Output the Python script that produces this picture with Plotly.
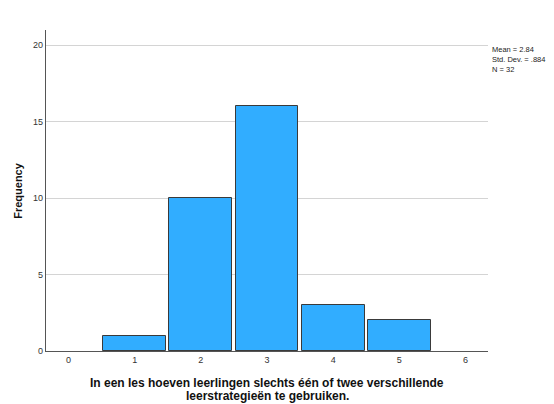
import plotly.graph_objects as go

categories = [1, 2, 3, 4, 5]
frequency = [1, 10, 16, 3, 2]
x_ticks = [0, 1, 2, 3, 4, 5, 6]
y_ticks = [0, 5, 10, 15, 20]
stats_lines = ["Mean = 2.84", "Std. Dev. = .884", "N = 32"]
x_title_lines = ["In een les hoeven leerlingen slechts één of twee verschillende",
                 "leerstrategieën te gebruiken."]
y_title = "Frequency"

fig = go.Figure()
fig.add_trace(go.Bar(
    x=categories, y=frequency, width=0.95,
    marker=dict(color="#31adff", line=dict(color="#3a3a3a", width=1)),
    showlegend=False, hoverinfo="x+y"))

annotations = [
    dict(text="<br>".join(stats_lines), xref="paper", yref="paper", x=1.005, y=0.96,
         xanchor="left", yanchor="top", align="left", showarrow=False,
         font=dict(size=7.5, color="#222")),
    dict(text="<b>" + y_title + "</b>", xref="paper", yref="paper", x=-0.065, y=0.5,
         xanchor="center", yanchor="middle", textangle=-90, showarrow=False,
         font=dict(size=11, color="#111")),
]
for i, line in enumerate(x_title_lines):
    annotations.append(dict(text="<b>" + line + "</b>", xref="paper", yref="paper",
                            x=0.5, y=-0.1 - 0.041 * i, xanchor="center", yanchor="middle",
                            showarrow=False, font=dict(size=12, color="#111")))

# page body has an 8px margin, so the figure is 8px smaller to fit the window
fig.update_layout(
    width=546, height=396,
    margin=dict(l=38, r=66, t=22, b=53),
    paper_bgcolor="white", plot_bgcolor="white",
    font=dict(family="Liberation Sans, Arial, sans-serif", color="#222"),
    bargap=0,
    xaxis=dict(range=[-0.34, 6.34], tickvals=x_ticks, ticktext=[str(v) for v in x_ticks],
               showgrid=False, zeroline=False, showline=True, linecolor="#555", linewidth=1.2,
               ticks="", tickfont=dict(size=9, color="#333")),
    yaxis=dict(range=[0, 21], tickvals=y_ticks, showgrid=True, gridcolor="#d4d4d4", gridwidth=1,
               zeroline=False, showline=True, linecolor="#555", linewidth=1.2,
               ticks="", tickfont=dict(size=9, color="#333")),
    annotations=annotations,
)

fig.write_html("out.html")
